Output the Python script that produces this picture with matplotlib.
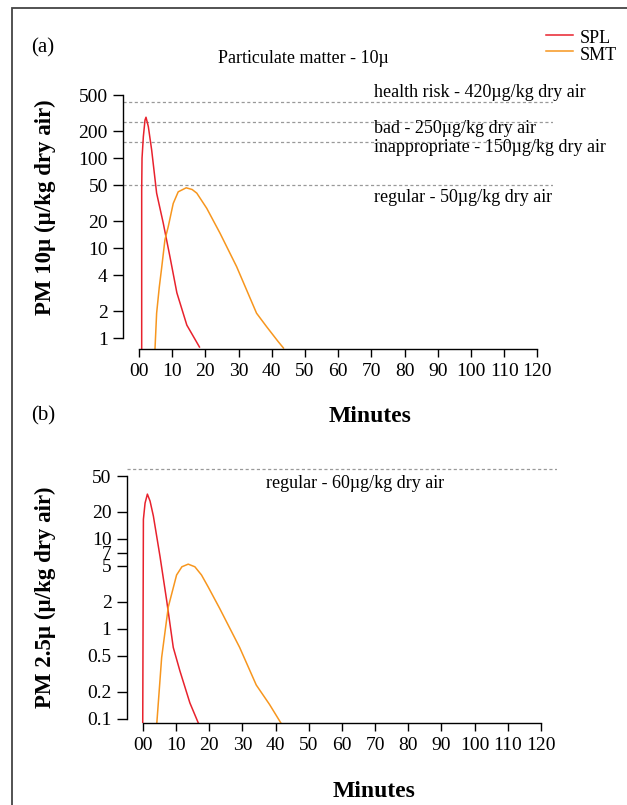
import numpy as np
import matplotlib
matplotlib.use("Agg")
import matplotlib.pyplot as plt
from matplotlib.patches import Rectangle

plt.rcParams['font.family'] = ['Liberation Serif', 'DejaVu Serif']

W, H = 627, 805

# panel (a): PM 10
spl_a_min = [0.8, 0.8, 0.9, 1.3, 1.8, 2.1, 2.8, 3.8, 5.3, 7.3, 9.3, 11.4, 14.4, 18.2]
spl_a_val = [0.75, 44, 100, 174, 266, 286, 225, 124, 41, 19, 8.1, 3.2, 1.4, 0.8]
smt_a_min = [4.8, 5.3, 6.1, 6.8, 7.8, 8.8, 10.3, 11.8, 14.2, 16.0, 17.4, 20.4, 24.4, 29.4, 35.4, 38.4, 41.9, 43.5]
smt_a_val = [0.75, 1.9, 3.7, 6.0, 12.4, 17.4, 31.5, 42.4, 47, 45, 41, 27.8, 14.7, 6.25, 1.9, 1.35, 0.92, 0.78]

# panel (b): PM 2.5
spl_b_min = [0.0, 0.2, 0.7, 1.4, 2.2, 3.2, 5.2, 7.2, 9.2, 11.2, 14.2, 17.0]
spl_b_val = [0.085, 16.5, 25, 31.5, 26.4, 18, 6.4, 2.08, 0.62, 0.34, 0.15, 0.085]
smt_b_min = [4.2, 5.7, 7.7, 10.2, 11.8, 13.7, 15.7, 17.7, 19.7, 23.2, 29.2, 34.2, 38.2, 42.0]
smt_b_val = [0.085, 0.48, 1.75, 3.97, 4.9, 5.24, 4.9, 3.97, 2.93, 1.68, 0.62, 0.237, 0.144, 0.085]

# reference levels
levels_a = [420, 250, 150, 50]
level_labels_a = ["health risk - 420µg/kg dry air", "bad - 250µg/kg dry air",
                  "inappropriate - 150µg/kg dry air", "regular - 50µg/kg dry air"]
levels_b = [60]
level_labels_b = ["regular - 60µg/kg dry air"]

x_ticks = list(range(0, 121, 10))
x_labels = ["00"] + [str(v) for v in range(10, 121, 10)]
y_ticks_a = [1, 2, 5, 10, 20, 50, 100, 200, 500]
y_labels_a = ["1", "2", "4", "10", "20", "50", "100", "200", "500"]
y_ticks_b = [0.1, 0.2, 0.5, 1, 2, 5, 7, 10, 20, 50]
y_labels_b = ["0.1", "0.2", "0.5", "1", "2", "5", "7", "10", "20", "50"]

RED = '#e8222d'
ORANGE = '#f7961e'
TICK_FS = 14


def px(x, y):
    return x / W, 1 - y / H


def make_axes(left, right, top, bottom, ylim, yticks, ylabels):
    ax = fig.add_axes([left / W, 1 - bottom / H, (right - left) / W, (bottom - top) / H])
    ax.set_yscale('log')
    ax.set_xlim(-4.8, 124.8)
    ax.set_ylim(*ylim)
    ax.patch.set_alpha(0)
    for s in ['top', 'right']:
        ax.spines[s].set_visible(False)
    ax.spines['left'].set_bounds(yticks[0], yticks[-1])
    ax.spines['bottom'].set_bounds(0, 120)
    for s in ['left', 'bottom']:
        ax.spines[s].set_linewidth(1.0)
    ax.set_xticks(x_ticks)
    ax.set_xticklabels(x_labels)
    ax.set_yticks(yticks)
    ax.set_yticklabels(ylabels)
    ax.minorticks_off()
    ax.tick_params(axis='y', length=7, width=1.0, pad=4, labelsize=TICK_FS)
    ax.tick_params(axis='x', length=6, width=1.0, pad=4, labelsize=TICK_FS)
    return ax


fig = plt.figure(figsize=(W / 100, H / 100), dpi=100)

# outer frame
fig.patches.append(Rectangle(px(12, 900), 1.0, (900 - 8) / H, transform=fig.transFigure,
                             fill=False, lw=1.3, ec='#444444'))

ax1 = make_axes(123.1, 553.3, 60, 349, (0.76, 1237), y_ticks_a, y_labels_a)
for lv in levels_a:
    ax1.axhline(lv, color='#999999', lw=0.9, ls=(0, (2.5, 2)))
ax1.plot(spl_a_min, spl_a_val, color=RED, lw=1.1)
ax1.plot(smt_a_min, smt_a_val, color=ORANGE, lw=1.1)

ax2 = make_axes(126.8, 557, 462.5, 723.3, (0.0889, 70.8), y_ticks_b, y_labels_b)
for lv in levels_b:
    ax2.axhline(lv, color='#999999', lw=0.9, ls=(0, (2.5, 2)))
ax2.plot(spl_b_min, spl_b_val, color=RED, lw=1.1)
ax2.plot(smt_b_min, smt_b_val, color=ORANGE, lw=1.1)

# level annotations
for lab, yb in zip(level_labels_a, [97, 133, 152.5, 201.5]):
    fig.text(*px(374, yb), lab, fontsize=13, va='baseline')
fig.text(*px(266, 488), level_labels_b[0], fontsize=13, va='baseline')

fig.text(*px(218, 63), "Particulate matter - 10µ", fontsize=13, va='baseline')
fig.text(*px(31, 52), "(a)", fontsize=15, va='baseline')
fig.text(*px(31, 420), "(b)", fontsize=15, va='baseline')

# legend
for (lab, col, yl) in [("SPL", RED, 35), ("SMT", ORANGE, 51.5)]:
    fig.add_artist(plt.Line2D([546 / W, 573 / W], [1 - yl / H] * 2, color=col, lw=1.1))
    fig.text(*px(580, yl + 8), lab, fontsize=13, va='baseline')

fig.text(*px(370, 421.5), "Minutes", fontsize=17, fontweight='bold', ha='center', va='baseline')
fig.text(*px(374, 796.5), "Minutes", fontsize=17, fontweight='bold', ha='center', va='baseline')
fig.text(*px(45, 207), "PM 10µ (µ/kg dry air)", fontsize=16.5, fontweight='bold',
         rotation=90, ha='center', va='center')
fig.text(*px(45, 597), "PM 2.5µ (µ/kg dry air)", fontsize=16.5, fontweight='bold',
         rotation=90, ha='center', va='center')

fig.savefig("out.png", dpi=100)
